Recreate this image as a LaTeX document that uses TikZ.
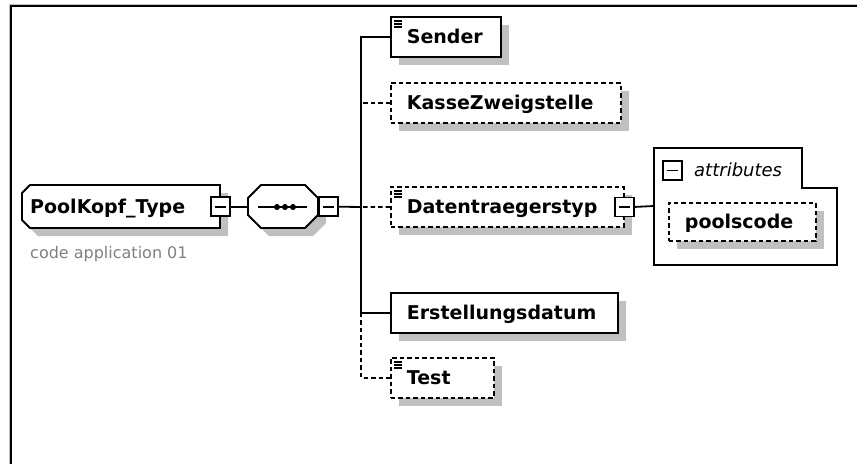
\documentclass[tikz,border=0pt]{standalone}
\usepackage{fontspec}
\setmainfont{DejaVu Sans}
\usetikzlibrary{shadows,calc}
\definecolor{sgray}{RGB}{192,192,192}
\definecolor{lgray}{RGB}{128,128,128}
\tikzset{
  box/.style={draw, line width=1.8pt, fill=white, rectangle, inner xsep=16pt, inner ysep=0pt,
    minimum height=40pt, align=left, font=\bfseries\fontsize{19}{20}\selectfont,
    text height=17pt, text depth=3pt, anchor=north west,
    drop shadow={shadow xshift=8pt, shadow yshift=-8pt, fill=sgray, opacity=1}},
  optbox/.style={box, dash pattern=on 4.5pt off 3pt},
  minus/.style={draw, line width=1.8pt, fill=white, minimum size=19pt, inner sep=0pt,
    path picture={\draw[line width=1.8pt] ([xshift=4pt]path picture bounding box.west) -- ([xshift=-4pt]path picture bounding box.east);}},
  conn/.style={line width=1.8pt},
  optconn/.style={conn, dash pattern=on 4.5pt off 3pt},
  shapeline/.style={line width=1.8pt, fill=white},
}
\newcommand\xdocicon[1]{\draw[line width=1.4pt] ($(#1.north west)+(4,5)$) -- +(8,0) ($(#1.north west)+(4,8)$) -- +(8,0) ($(#1.north west)+(4,11)$) -- +(8,0);}
\begin{document}
\begin{tikzpicture}[x=1pt,y=-1pt]
\useasboundingbox (0,0) rectangle (857,464);
% frame
\draw[sgray, line width=1pt] (9.2,464) -- (9.2,4.5) -- (857,4.5);
\draw[line width=1.8pt] (10.7,464) -- (10.7,5.9) -- (857,5.9);

% PoolKopf_Type
\fill[sgray] (38,193) -- (228,193) -- (228,236) -- (38,236) -- (30,228) -- (30,201) -- cycle;
\draw[shapeline] (30,185) -- (220,185) -- (220,228) -- (30,228) -- (22,220) -- (22,193) -- cycle;
\node[anchor=north west, minimum height=43pt, inner xsep=8pt, inner ysep=0pt, text width=182pt,
  align=left, font=\bfseries\fontsize{19}{20}\selectfont, text height=17pt, text depth=3pt] (pk) at (22,185) {PoolKopf\_Type};
\node[minus] (m1) at (pk.east) {};
\node[anchor=base west, inner sep=0pt, text=lgray, font=\fontsize{16}{16}\selectfont] (doc) at (30,258) {code application 01};

% sequence
\fill[sgray] (269,193) -- (313,193) -- (326,206) -- (326,223) -- (313,236) -- (269,236) -- (256,223) -- (256,206) -- cycle;
\draw[shapeline] (261,185) -- (305,185) -- (318,198) -- (318,215) -- (305,228) -- (261,228) -- (248,215) -- (248,198) -- cycle;
\node[anchor=north west, minimum width=70pt, minimum height=43pt, inner sep=0pt] (seq) at (248,185) {};
\draw[conn] (258,207) -- (307,207);
\fill (277,207) circle (3pt) (285,207) circle (3pt) (293,207) circle (3pt);
\node[minus] (m2) at ($(seq.east)+(10,0)$) {};

\coordinate (bus) at (361,207);

% children
\node[box, text width=78pt] (sender) at (390,16) {Sender};
\xdocicon{sender}
\node[optbox, text width=198pt] (kasse) at (390,82) {KasseZweigstelle};
\node[optbox, text width=201pt] (daten) at (390,186) {Datentraegerstyp};
\xdocicon{daten}
\node[minus] (m3) at (daten.east) {};
\node[box, text width=195pt] (erst) at (390,292) {Erstellungsdatum};
\node[optbox, text width=71pt] (test) at (390,357) {Test};
\xdocicon{test}

% attributes
\draw[line width=1.8pt] (654,148) -- (802,148) -- (802,188) -- (837,188) -- (837,265) -- (654,265) -- cycle;
\coordinate (attrW) at (654,206);
\node[minus] (m4) at (672.5,170.5) {};
\node[anchor=base west, inner sep=0pt, font=\itshape\fontsize{18}{18}\selectfont] (attrt) at (694,176) {attributes};
\node[optbox, text width=115pt, minimum height=38pt] (pool) at (668,202) {poolscode};

% connectors
\draw[conn] (m1.east) -- (seq.west);
\draw[conn] (m2.east) -- (bus);
\draw[conn] (sender.west) -- (sender.west -| bus) -- (erst.west -| bus) -- (erst.west);
\draw[optconn] (kasse.west) -- (kasse.west -| bus);
\draw[optconn] (daten.west) -- (bus);
\draw[optconn] (erst.west -| bus) -- (test.west -| bus) -- (test.west);
\draw[conn] (m3.east) -- (attrW);
\end{tikzpicture}
\end{document}
